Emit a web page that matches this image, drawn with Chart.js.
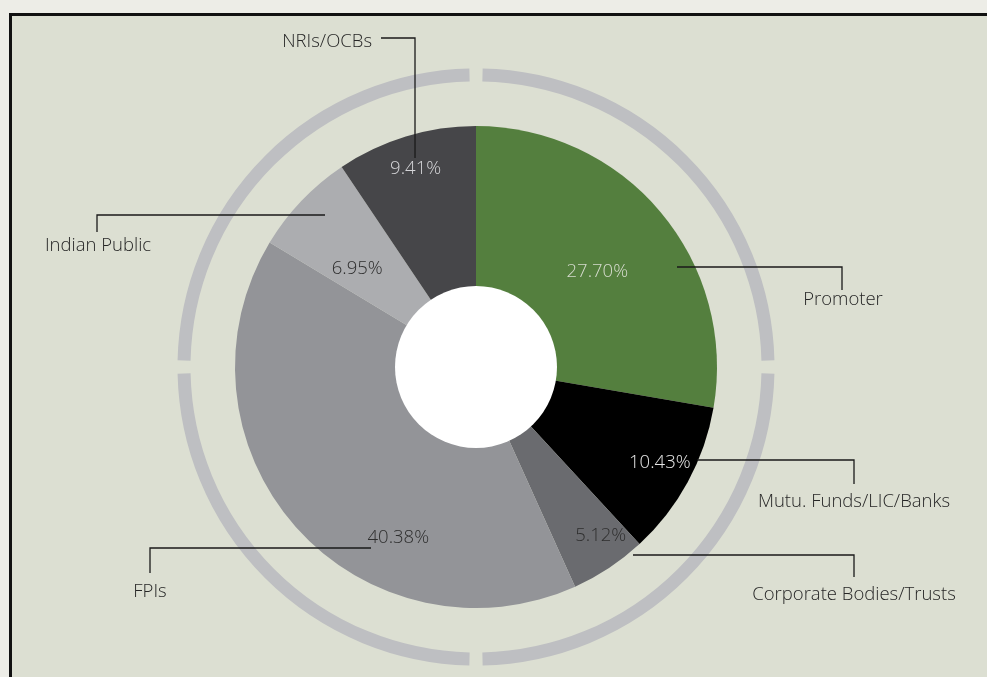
<!DOCTYPE html>
<html>
<head>
<meta charset="utf-8">
<script src="https://cdn.jsdelivr.net/npm/chart.js@4"></script>
<style>
  html, body { margin: 0; padding: 0; background: #edede7; }
  #wrap { width: 987px; height: 677px; }
</style>
</head>
<body>
<div id="wrap"><canvas id="holdingChart" width="987" height="677"></canvas></div>
<script>
// Shareholding pattern (%)
const categories = ['Promoter', 'Mutu. Funds/LIC/Banks', 'Corporate Bodies/Trusts', 'FPIs', 'Indian Public', 'NRIs/OCBs'];
const shares = [27.70, 10.43, 5.12, 40.38, 6.95, 9.41];
const sliceColors = ['#547f3e', '#000000', '#6a6b6f', '#939498', '#acadb0', '#464649'];
const valueColors = ['#d7dccf', '#e6e6e6', '#2e2e2e', '#2e2e2e', '#2e2e2e', '#d5d5d8'];

// where each % sits inside its slice: fraction of radius, angle nudge (deg)
const valueSpots = [[0.64, 2], [0.86, -1], [0.87, -3], [0.78, -24], [0.64, -4], [0.86, 0]];

// callouts: name position + elbow leader from the % text
const callouts = [
    { text: 'Promoter', x: 843, y: 300, align: 'center', path: [[677, 267], [842, 267], [842, 290]] },
    { text: 'Mutu. Funds/LIC/Banks', x: 854, y: 502, align: 'center', path: [[697, 460], [854, 460], [854, 484]] },
    { text: 'Corporate Bodies/Trusts', x: 854, y: 595, align: 'center', path: [[633, 555], [854, 555], [854, 577]] },
    { text: 'FPIs', x: 150, y: 592, align: 'center', path: [[371, 548], [150, 548], [150, 573]] },
    { text: 'Indian Public', x: 98, y: 246, align: 'center', path: [[325, 215], [97, 215], [97, 232]] },
    { text: 'NRIs/OCBs', x: 372, y: 42, align: 'right', path: [[415, 158], [415, 38], [381, 38]] }
];

const FONT = '"Open Sans", "Noto Sans", sans-serif';

const framePlugin = {
    id: 'frame',
    beforeDraw(chart) {
        const ctx = chart.ctx;
        ctx.save();
        ctx.fillStyle = '#edede7';
        ctx.fillRect(0, 0, chart.width, chart.height);
        ctx.fillStyle = '#dcdfd2';
        ctx.fillRect(10, 14, chart.width, chart.height);
        ctx.fillStyle = '#111111';
        ctx.fillRect(9, 13, chart.width, 3);
        ctx.fillRect(9, 13, 3, chart.height);
        ctx.restore();
    }
};

// grey ring round the pie, split into four quarters
const ringPlugin = {
    id: 'ring',
    beforeDatasetsDraw(chart) {
        const arc = chart.getDatasetMeta(0).data[0];
        const ctx = chart.ctx;
        const r = arc.outerRadius + 51;
        const gap = 13 / r / 2;
        ctx.save();
        ctx.strokeStyle = '#bebfc2';
        ctx.lineWidth = 13;
        ctx.lineCap = 'butt';
        for (let q = 0; q < 4; q++) {
            const a0 = -Math.PI / 2 + q * Math.PI / 2;
            ctx.beginPath();
            ctx.arc(arc.x, arc.y, r, a0 + gap, a0 + Math.PI / 2 - gap);
            ctx.stroke();
        }
        ctx.restore();
    }
};

const labelPlugin = {
    id: 'labels',
    afterDatasetsDraw(chart) {
        const meta = chart.getDatasetMeta(0);
        const ctx = chart.ctx;
        const first = meta.data[0];
        ctx.save();

        // white hub
        ctx.fillStyle = '#ffffff';
        ctx.beginPath();
        ctx.arc(first.x, first.y, 81, 0, Math.PI * 2);
        ctx.fill();

        // leader lines
        ctx.strokeStyle = '#1a1a1a';
        ctx.lineWidth = 1.3;
        callouts.forEach(c => {
            ctx.beginPath();
            c.path.forEach((p, i) => i ? ctx.lineTo(p[0], p[1]) : ctx.moveTo(p[0], p[1]));
            ctx.stroke();
        });

        ctx.font = '300 18.5px ' + FONT;
        ctx.textBaseline = 'middle';
        ctx.textAlign = 'center';
        meta.data.forEach((el, i) => {
            const mid = (el.startAngle + el.endAngle) / 2 + valueSpots[i][1] * Math.PI / 180;
            const rr = el.outerRadius * valueSpots[i][0];
            ctx.fillStyle = valueColors[i];
            ctx.fillText(shares[i].toFixed(2) + '%', el.x + Math.cos(mid) * rr, el.y + Math.sin(mid) * rr);
        });

        ctx.fillStyle = '#262626';
        callouts.forEach(c => {
            ctx.textAlign = c.align;
            ctx.fillText(c.text, c.x, c.y);
        });
        ctx.restore();
    }
};

new Chart(document.getElementById('holdingChart'), {
    type: 'pie',
    data: {
        labels: categories,
        datasets: [{
            data: shares,
            backgroundColor: sliceColors,
            borderWidth: 0
        }]
    },
    options: {
        responsive: false,
        animation: false,
        layout: { padding: { left: 235, right: 270, top: 126, bottom: 69 } },
        plugins: {
            legend: { display: false },
            tooltip: { enabled: false }
        }
    },
    plugins: [framePlugin, ringPlugin, labelPlugin]
});
</script>
</body>
</html>
